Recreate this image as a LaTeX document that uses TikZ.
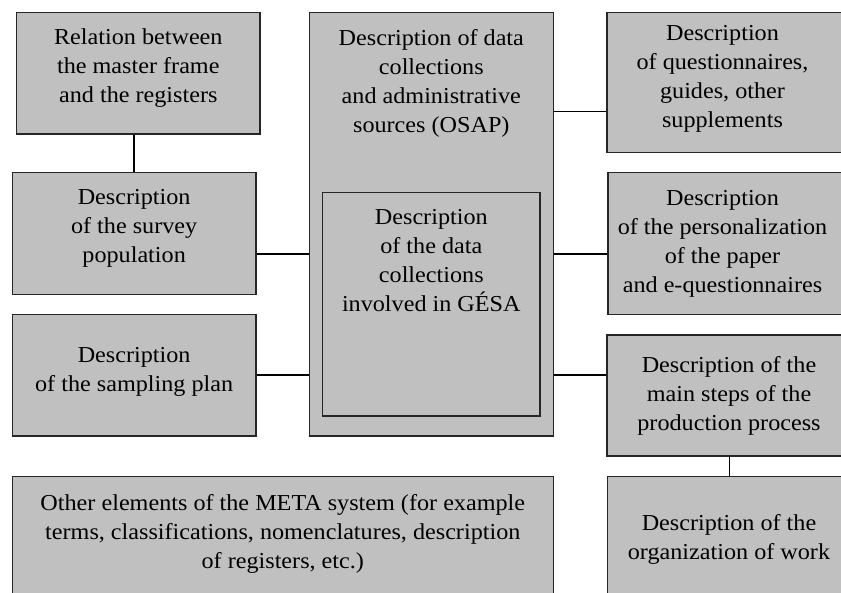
\documentclass[tikz,border=0pt]{standalone}
\usepackage{fontspec}
\setmainfont{Liberation Serif}[FakeStretch=1.06]
\definecolor{boxgray}{HTML}{C0C0C0}
\definecolor{edge}{HTML}{262626}
\tikzset{
  box/.style={draw=edge, fill=boxgray, line width=1.3pt, rectangle, inner sep=0pt},
  txt/.style={align=center, anchor=north, inner sep=0pt, font=\fontsize{22.8}{28.8}\selectfont},
  link/.style={draw=black, line width=1.5pt}
}
\begin{document}
\begin{tikzpicture}[x=1pt, y=-1pt]
\useasboundingbox (0,0) rectangle (841,593);
\clip (0,0) rectangle (841,593);
\fill[white] (0,0) rectangle (841,593);
% boxes
\node[box, minimum width=243.3pt, minimum height=121.3pt] (A) at (138.35,73.35) {};
\node[box, minimum width=243.7pt, minimum height=122pt] (B) at (134.15,233.3) {};
\node[box, minimum width=243.7pt, minimum height=121.7pt] (C) at (134.15,375.15) {};
\node[box, minimum width=244pt, minimum height=423.3pt] (O) at (431.3,224.35) {};
\node[box, minimum width=217.3pt, minimum height=223.3pt] (I) at (431.35,304.35) {};
\node[box, minimum width=253pt, minimum height=139.6pt] (D) at (733.5,82.5) {};
\node[box, minimum width=252pt, minimum height=141.6pt] (E) at (734,243.5) {};
\node[box, minimum width=253pt, minimum height=121pt] (F) at (733.5,395.5) {};
\node[box, minimum width=252.7pt, minimum height=143.3pt] (G) at (733.65,548.35) {};
\node[box, minimum width=541pt, minimum height=143.3pt] (H) at (282.8,548.35) {};
% texts
\node[txt] (tA) at (138.3,28.6) {Relation between\\the master frame\\and the registers};
\node[txt] (tB) at (134.15,189.6) {Description\\of the survey\\population};
\node[txt] (tC) at (134.15,347.6) {Description\\of the sampling plan};
\node[txt] (tO) at (431.3,29.6) {Description of data\\collections\\and administrative\\sources (OSAP)};
\node[txt] (tI) at (431.3,209.6) {Description\\of the data\\collections\\involved in GÉSA};
\node[txt] (tD) at (722.5,25.6) {Description\\of questionnaires,\\guides, other\\supplements};
\node[txt] (tE) at (722.5,190.6) {Description\\of the personalization\\of the paper\\and e-questionnaires};
\node[txt] (tF) at (729,356.3) {Description of the\\main steps of the\\production process};
\node[txt] (tG) at (729,514.6) {Description of the\\organization of work};
\node[txt] (tH) at (282.8,494.6) {Other elements of the META system (for example\\terms, classifications, nomenclatures, description\\of registers, etc.)};
% connectors
\coordinate (r1) at (0,111.7);
\coordinate (r2) at (0,254);
\coordinate (r3) at (0,375);
\coordinate (cfg) at (729.3,0);
\draw[link] (A.south -| B.north) -- (B.north);
\draw[link] (B.east |- r2) -- (O.west |- r2);
\draw[link] (C.east |- r3) -- (O.west |- r3);
\draw[link] (O.east |- r1) -- (D.west |- r1);
\draw[link] (O.east |- r2) -- (E.west |- r2);
\draw[link] (O.east |- r3) -- (F.west |- r3);
\draw[link] (F.south -| cfg) -- (G.north -| cfg);
\end{tikzpicture}
\end{document}
